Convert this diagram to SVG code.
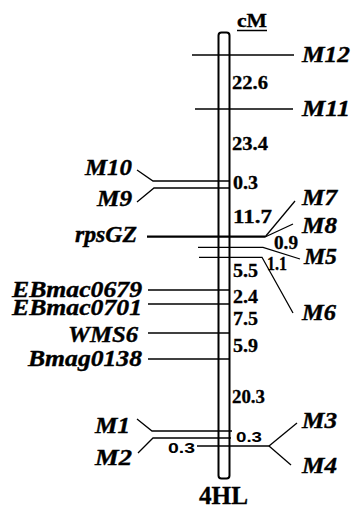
<svg xmlns="http://www.w3.org/2000/svg" width="353" height="508" viewBox="0 0 353 508">
<style>
.lb{font-family:'Liberation Serif',Tinos,'Times New Roman',Times,serif;font-weight:700;font-style:italic;font-size:24px;fill:#000;stroke:#000;stroke-width:0.4}
.nm{font-family:'Liberation Serif',Tinos,'Times New Roman',Times,serif;font-weight:700;font-size:18px;fill:#000;stroke:#000;stroke-width:0.3}
.ns{font-family:'Liberation Sans',Arial,sans-serif;font-weight:700;font-size:15px;fill:#000}
.ln{stroke:#000;stroke-width:1.3;fill:none}
.thick{stroke:#000;stroke-width:2.2;fill:none}
</style>
<rect width="353" height="508" fill="#fff"/>
<g id="chromosome">
<rect x="218.5" y="32.5" width="11" height="446" rx="3" fill="none" stroke="#000" stroke-width="2"/>
<text class="nm" x="237" y="27" textLength="30" lengthAdjust="spacingAndGlyphs">cM</text>
<line x1="237" y1="30.5" x2="267" y2="30.5" stroke="#000" stroke-width="1.5"/>
<text class="nm" x="199" y="504" textLength="49" lengthAdjust="spacingAndGlyphs" style="font-size:25px">4HL</text>
</g>
<g id="connectors">
<line class="ln" x1="192" y1="55" x2="294" y2="55"/>
<line class="ln" x1="195" y1="109" x2="293" y2="109"/>
<polyline class="ln" points="137,170 153,181 229,181"/>
<polyline class="ln" points="137,202 154,188 229,188"/>
<line class="thick" x1="147" y1="236.7" x2="265" y2="236.7"/>
<line class="ln" x1="265" y1="237" x2="295" y2="201"/>
<line class="ln" x1="265" y1="237" x2="293" y2="224"/>
<polyline class="ln" points="198,247.3 263,247.3 300,259"/>
<polyline class="ln" points="199,257.3 262,257.3 293,313"/>
<line class="ln" x1="148" y1="290" x2="229" y2="290"/>
<line class="ln" x1="148" y1="304" x2="229" y2="304"/>
<line class="ln" x1="148" y1="333" x2="229" y2="333"/>
<line class="ln" x1="148" y1="359" x2="229" y2="359"/>
<polyline class="ln" points="137,419 152,431 232,431"/>
<polyline class="ln" points="138,453 153,438 231,438"/>
<line class="ln" x1="197" y1="446" x2="269" y2="446"/>
<line class="ln" x1="269" y1="446" x2="297" y2="423"/>
<line class="ln" x1="269" y1="446" x2="291" y2="465"/>
</g>
<g id="intervals">
<text class="nm" x="232" y="89" textLength="36" lengthAdjust="spacingAndGlyphs">22.6</text>
<text class="nm" x="232" y="150" textLength="36" lengthAdjust="spacingAndGlyphs">23.4</text>
<text class="nm" x="233" y="189" textLength="25" lengthAdjust="spacingAndGlyphs">0.3</text>
<text class="nm" x="233" y="223" textLength="39" lengthAdjust="spacingAndGlyphs">11.7</text>
<text class="nm" x="274" y="249" textLength="24" lengthAdjust="spacingAndGlyphs">0.9</text>
<text class="nm" x="267" y="270" textLength="20" lengthAdjust="spacingAndGlyphs">1.1</text>
<text class="nm" x="233" y="277" textLength="25" lengthAdjust="spacingAndGlyphs">5.5</text>
<text class="nm" x="233" y="302.7" textLength="25" lengthAdjust="spacingAndGlyphs">2.4</text>
<text class="nm" x="233" y="325" textLength="25" lengthAdjust="spacingAndGlyphs">7.5</text>
<text class="nm" x="233" y="352" textLength="25" lengthAdjust="spacingAndGlyphs">5.9</text>
<text class="nm" x="232" y="403" textLength="33" lengthAdjust="spacingAndGlyphs">20.3</text>
<text class="ns" x="236" y="442" textLength="26" lengthAdjust="spacingAndGlyphs">0.3</text>
<text class="ns" x="168" y="453" textLength="27" lengthAdjust="spacingAndGlyphs">0.3</text>
</g>
<g id="M12"><text class="lb" x="302" y="62" textLength="48" lengthAdjust="spacingAndGlyphs">M12</text></g>
<g id="M11"><text class="lb" x="302" y="116" textLength="48" lengthAdjust="spacingAndGlyphs">M11</text></g>
<g id="M10"><text class="lb" x="85" y="175" textLength="47" lengthAdjust="spacingAndGlyphs">M10</text></g>
<g id="M9"><text class="lb" x="97" y="206" textLength="35" lengthAdjust="spacingAndGlyphs">M9</text></g>
<g id="M7"><text class="lb" x="302" y="205" textLength="35" lengthAdjust="spacingAndGlyphs">M7</text></g>
<g id="M8"><text class="lb" x="302" y="233" textLength="35" lengthAdjust="spacingAndGlyphs">M8</text></g>
<g id="rpsGZ"><text class="lb" x="75" y="242" textLength="62" lengthAdjust="spacingAndGlyphs">rpsGZ</text></g>
<g id="M5"><text class="lb" x="304" y="264" textLength="33" lengthAdjust="spacingAndGlyphs">M5</text></g>
<g id="M6"><text class="lb" x="302" y="320" textLength="34" lengthAdjust="spacingAndGlyphs">M6</text></g>
<g id="EBmac0679"><text class="lb" x="12" y="297" textLength="130" lengthAdjust="spacingAndGlyphs">EBmac0679</text></g>
<g id="EBmac0701"><text class="lb" x="12" y="315" textLength="130" lengthAdjust="spacingAndGlyphs">EBmac0701</text></g>
<g id="WMS6"><text class="lb" x="68" y="342" textLength="70" lengthAdjust="spacingAndGlyphs">WMS6</text></g>
<g id="Bmag0138"><text class="lb" x="28" y="366" textLength="114" lengthAdjust="spacingAndGlyphs">Bmag0138</text></g>
<g id="M1"><text class="lb" x="95" y="433" textLength="35" lengthAdjust="spacingAndGlyphs">M1</text></g>
<g id="M2"><text class="lb" x="95" y="465" textLength="37" lengthAdjust="spacingAndGlyphs">M2</text></g>
<g id="M3"><text class="lb" x="302" y="428" textLength="35" lengthAdjust="spacingAndGlyphs">M3</text></g>
<g id="M4"><text class="lb" x="302" y="473" textLength="35" lengthAdjust="spacingAndGlyphs">M4</text></g>
</svg>
